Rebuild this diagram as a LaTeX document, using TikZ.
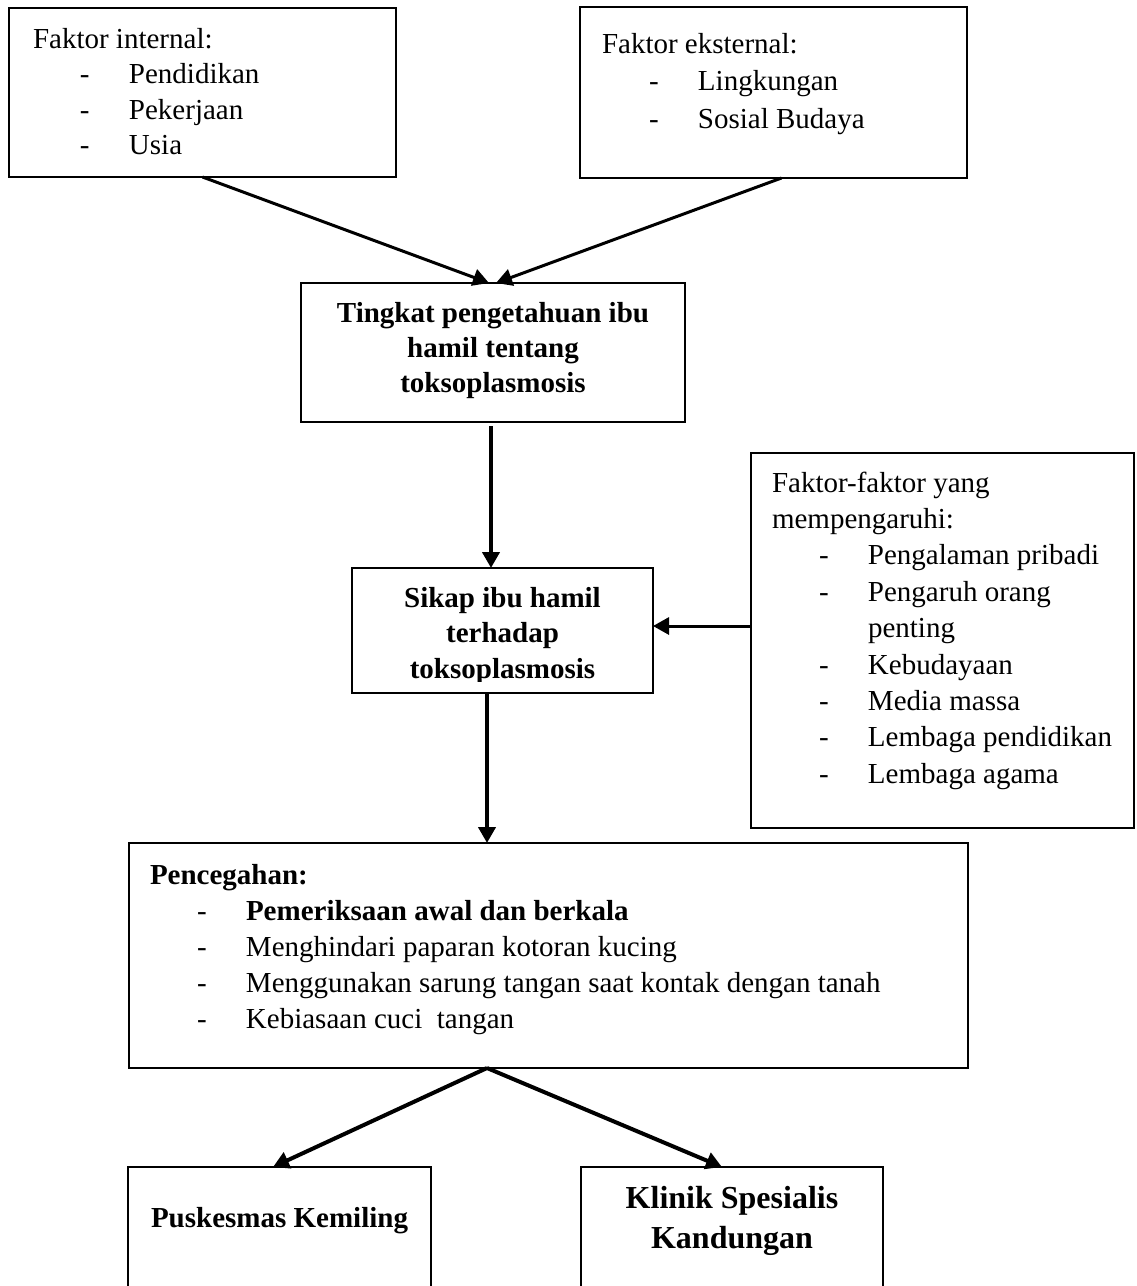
\documentclass[tikz,border=0pt]{standalone}
\usepackage{fontspec}
\setmainfont{Liberation Serif}
\usetikzlibrary{arrows.meta,calc}
\newcommand{\myitem}{\hspace*{47pt}\makebox[49pt][l]{-}}
\begin{document}
\begin{tikzpicture}[x=1pt,y=-1pt,
  boxst/.style={draw, line width=2.5pt, rectangle, inner sep=0pt, outer sep=0pt},
  txt/.style={anchor=base west, inner sep=0pt, outer sep=0pt},
  ctxt/.style={anchor=base, inner sep=0pt, outer sep=0pt},
  arrA/.style={line width=3pt, -{Triangle[length=16pt,width=17pt]}},
  arrB/.style={line width=4pt, -{Triangle[length=16pt,width=17pt]}}
]
\clip (0,0) rectangle (1137,1286);
% boxes
\node[boxst, minimum width=387pt, minimum height=169pt] (b1) at (202.5,92.5) {};
\node[boxst, minimum width=387pt, minimum height=171pt] (b2) at (773.5,92.5) {};
\node[boxst, minimum width=384pt, minimum height=139pt] (b3) at (493,352.5) {};
\node[boxst, minimum width=301pt, minimum height=125pt] (b4) at (502.5,630.5) {};
\node[boxst, minimum width=383pt, minimum height=375pt] (b5) at (942.5,640.5) {};
\node[boxst, minimum width=839pt, minimum height=225pt] (b6) at (548.5,955.5) {};
\node[boxst, minimum width=303pt, minimum height=160pt] (b7) at (279.5,1247) {};
\node[boxst, minimum width=302pt, minimum height=160pt] (b8) at (732,1247) {};
% texts
\node[txt] (t1) at (33,48) {\parbox[t]{360pt}{\fontsize{29}{35.5}\selectfont
  Faktor internal:\\ \myitem Pendidikan\\ \myitem Pekerjaan\\ \myitem Usia}};
\node[txt] (t2) at (602,53) {\parbox[t]{360pt}{\fontsize{29}{37.5}\selectfont
  Faktor eksternal:\\ \myitem Lingkungan\\ \myitem Sosial Budaya}};
\node[ctxt] (t3) at (493,322) {\parbox[t]{380pt}{\centering\bfseries\fontsize{29}{35}\selectfont
  Tingkat pengetahuan ibu\\ hamil tentang\\ toksoplasmosis}};
\begin{scope}
\clip (352,560) rectangle (653,681.5);
\node[ctxt] (t4) at (502.5,607) {\parbox[t]{300pt}{\centering\bfseries\fontsize{29}{35.5}\selectfont
  Sikap ibu hamil\\ terhadap\\ toksoplasmosis}};
\end{scope}
\node[txt] (t5) at (772,492) {\parbox[t]{360pt}{\fontsize{29}{36.4}\selectfont
  Faktor-faktor yang\\ mempengaruhi:\\ \myitem Pengalaman pribadi\\ \myitem Pengaruh orang\\
  \hspace*{96pt}penting\\ \myitem Kebudayaan\\ \myitem Media massa\\ \myitem Lembaga pendidikan\\ \myitem Lembaga agama}};
\node[txt] (t6) at (150,884) {\parbox[t]{800pt}{\fontsize{29}{36}\selectfont
  \textbf{Pencegahan:}\\ \myitem\textbf{Pemeriksaan awal dan berkala}\\ \myitem Menghindari paparan kotoran kucing\\
  \myitem Menggunakan sarung tangan saat kontak dengan tanah\\ \myitem Kebiasaan cuci\ \ tangan}};
\node[ctxt] (t7) at (279.5,1227) {\fontsize{29}{35}\selectfont\bfseries Puskesmas Kemiling};
\node[ctxt] (t8) at (732,1208) {\parbox[t]{300pt}{\centering\bfseries\fontsize{32}{40}\selectfont
  Klinik Spesialis\\ Kandungan}};
% connectors
\draw[arrA] (b1.south) -- ($(b3.north)+(-4,0)$);
\draw[arrA] ($(b2.south)+(8,0)$) -- ($(b3.north)+(3,0)$);
\coordinate (v3) at ($(b3.south)+(-2,4)$);
\draw[arrB] (v3) -- (v3 |- b4.north);
\coordinate (h4) at ($(b4.east)+(0,-4.5)$);
\draw[arrA] (h4 -| b5.west) -- (h4);
\coordinate (v4) at ($(b4.south)+(-15.5,0)$);
\draw[arrB] (v4) -- (v4 |- b6.north);
\coordinate (v6) at (v4 |- b6.south);
\draw[arrB] (v6) -- ($(b7.north)+(-6.5,0)$);
\draw[arrB] (v6) -- ($(b8.north)+(-10,0)$);
\end{tikzpicture}
\end{document}
